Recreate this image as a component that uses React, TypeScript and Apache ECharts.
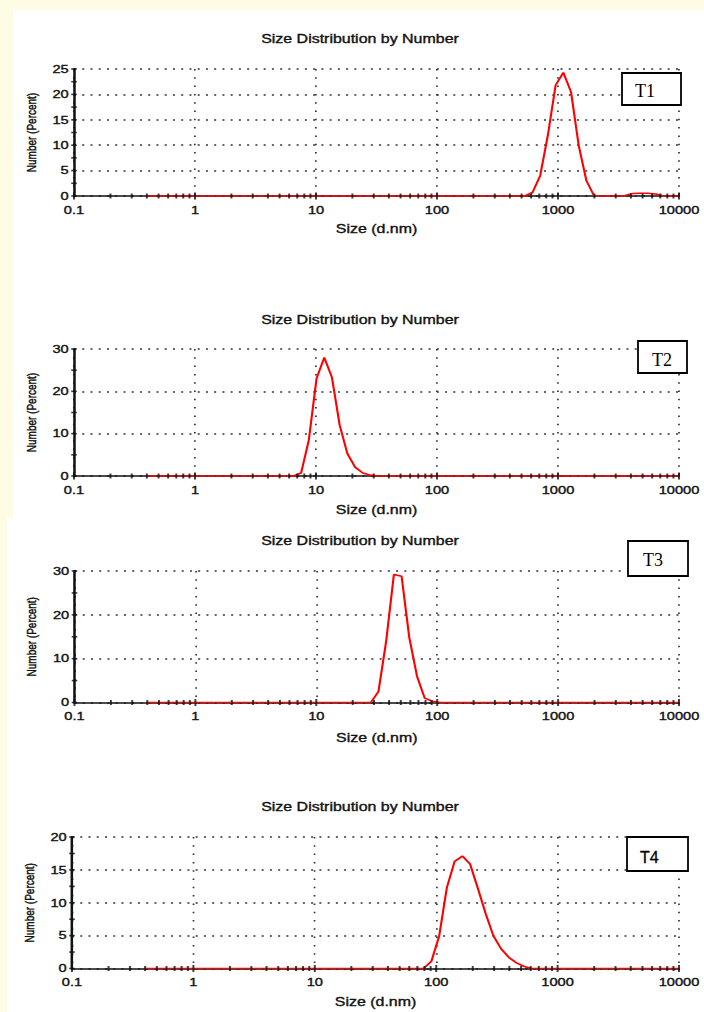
import React, { useEffect, useRef } from "react";
import * as echarts from "echarts";

// The reference screenshot is stretched horizontally; the chart is drawn narrower and stretched back.
const S = 1.33;
const W = 704;
const H = 1012;
const CW = Math.round(W / S);
const CREAM = "#FFFCE6";
const FONT = "'Liberation Sans', Arial, sans-serif";
const INK = "#111111";
const HEAVY = { textBorderColor: "#111111", textBorderWidth: 0.35 };

const TITLE = "Size Distribution by Number";
const X_NAME = "Size (d.nm)";
const Y_NAME = "Number (Percent)";
const X_LABELS = ["0.1", "1", "10", "100", "1000", "10000"];
const SAMPLE_LABELS = ["T1", "T2", "T3", "T4"];

// Size (d.nm) and Number (%) pairs
const T1_SIZES = [0.4, 531.2, 615.1, 712.4, 825.0, 955.4, 1106, 1281, 1484, 1718, 1990, 3091, 3580, 4145, 4801, 5560, 6439, 7456, 10000];
const T1_VALUES = [0, 0, 0.7, 4.0, 12.0, 21.8, 24.3, 20.5, 9.9, 3.0, 0, 0, 0.1, 0.5, 0.55, 0.55, 0.4, 0, 0];

const T2_SIZES = [0.4, 6.503, 7.531, 8.721, 10.1, 11.7, 13.54, 15.69, 18.17, 21.04, 24.36, 28.21, 32.67, 10000];
const T2_VALUES = [0, 0, 0.7, 8.5, 23.0, 28.0, 23.3, 12.0, 5.3, 2.1, 0.7, 0.2, 0, 0];

const T3_SIZES = [0.4, 28.21, 32.67, 37.84, 43.82, 50.75, 58.77, 68.06, 78.82, 91.28, 105.7, 10000];
const T3_VALUES = [0, 0, 2.5, 14.0, 29.2, 28.8, 14.8, 6.0, 1.0, 0.3, 0, 0];

const T4_SIZES = [0.4, 78.82, 91.28, 105.7, 122.4, 141.8, 164.2, 190.1, 220.2, 255.0, 295.3, 342.0, 396.1, 458.7, 531.2, 615.1, 10000];
const T4_VALUES = [0, 0, 1.1, 4.9, 12.3, 16.3, 17.1, 15.9, 12.2, 8.4, 5.0, 3.0, 1.7, 0.85, 0.3, 0, 0];

const SIZES = [T1_SIZES, T2_SIZES, T3_SIZES, T4_SIZES];
const VALUES = [T1_VALUES, T2_VALUES, T3_VALUES, T4_VALUES];

const Y_MAX = [25, 30, 30, 20];
const Y_STEP = [5, 10, 10, 5];

// log-axis minor tick positions
const DECADES = [0.1, 1, 10, 100, 1000];
const MULTS = [2, 3, 4, 5, 6, 7, 8, 9];
const MAJORS = [0.1, 1, 10, 100, 1000, 10000];

// Page-pixel layout of each panel
const PANELS = [
  { left: 74, right: 684, top: 69, bottom: 196, nameGap: 27, titleY: 38.5, box: [622, 73, 59, 32], tx: 635, ty: 91, serif: true },
  { left: 74, right: 685, top: 349, bottom: 476, nameGap: 28, titleY: 319.5, box: [638, 341, 49, 32], tx: 652, ty: 360, serif: true },
  { left: 74.5, right: 690, top: 571, bottom: 702.5, nameGap: 29, titleY: 541, box: [628, 541, 60, 35], tx: 643, ty: 560.5, serif: true },
  { left: 72, right: 685, top: 837, bottom: 968.5, nameGap: 27, titleY: 807, box: [627, 837, 61, 34], tx: 640, ty: 857.5, serif: false },
];

function fmt(v: number) {
  return String(+Number(v).toPrecision(6));
}

function buildOption() {
  const grid = PANELS.map((p) => ({
    left: p.left / S,
    top: p.top,
    width: (p.right - p.left) / S,
    height: p.bottom - p.top,
  }));

  const xAxis = PANELS.map((p, i) => ({
    type: "log",
    logBase: 10,
    gridIndex: i,
    min: 0.1,
    max: 10000,
    name: X_NAME,
    nameLocation: "middle",
    nameGap: p.nameGap,
    nameTextStyle: { fontFamily: FONT, fontSize: 12, color: INK, ...HEAVY },
    axisLine: { show: true, onZero: false, lineStyle: { color: INK, width: 1.7 } },
    axisTick: { show: false },
    axisLabel: {
      show: true,
      fontFamily: FONT,
      fontSize: 11,
      color: INK,
      ...HEAVY,
      margin: 8.5,
      showMinLabel: true,
      showMaxLabel: true,
      hideOverlap: false,
      formatter: (v: number) => {
        const s = fmt(v);
        return X_LABELS.includes(s) ? s : "";
      },
    },
    splitLine: { show: true, lineStyle: { color: "#333333", width: 1.3, type: [1.5, 6.8] } },
  }));

  const yAxis = PANELS.map((p, i) => ({
    type: "value",
    gridIndex: i,
    min: 0,
    max: Y_MAX[i],
    interval: Y_STEP[i],
    name: Y_NAME,
    nameLocation: "middle",
    nameGap: 24,
    nameRotate: 90,
    nameTextStyle: { fontFamily: FONT, fontSize: 10, color: INK, ...HEAVY },
    axisLine: { show: true, onZero: false, lineStyle: { color: INK, width: 1.9 } },
    axisTick: { show: false },
    axisLabel: { fontFamily: FONT, fontSize: 11, color: INK, ...HEAVY, margin: 4 },
    splitLine: { show: true, lineStyle: { color: "#333333", width: 1.6, type: [1.5, 4.7] } },
  }));

  const series: any[] = [];
  PANELS.forEach((p, i) => {
    series.push({
      type: "line",
      xAxisIndex: i,
      yAxisIndex: i,
      data: SIZES[i].map((s, k) => [s, VALUES[i][k]]),
      symbol: "none",
      smooth: false,
      lineStyle: { color: "#ff0000", width: 1.6 },
      z: 3,
      silent: true,
    });
    const minor: number[][] = [];
    DECADES.forEach((d) => MULTS.forEach((m) => minor.push([d * m, 0])));
    series.push({
      type: "scatter",
      xAxisIndex: i,
      yAxisIndex: i,
      data: minor,
      symbol: "rect",
      symbolSize: [1.5, 5],
      itemStyle: { color: INK },
      clip: false,
      silent: true,
      z: 4,
    });
    series.push({
      type: "scatter",
      xAxisIndex: i,
      yAxisIndex: i,
      data: MAJORS.map((m) => [m, 0]),
      symbol: "rect",
      symbolSize: [1.5, 7],
      itemStyle: { color: INK },
      clip: false,
      silent: true,
      z: 4,
    });
    const yt: number[][] = [];
    const half = Y_STEP[i] / 2;
    for (let v = 0; v <= Y_MAX[i] + 1e-9; v += half) yt.push([0.1, v]);
    series.push({
      type: "scatter",
      xAxisIndex: i,
      yAxisIndex: i,
      data: yt,
      symbol: "rect",
      symbolSize: [4.2, 1.6],
      itemStyle: { color: INK },
      clip: false,
      silent: true,
      z: 4,
    });
  });

  const titles = PANELS.map((p) => ({
    type: "text",
    x: 360 / S,
    y: p.titleY,
    z: 50,
    style: {
      text: TITLE,
      fontFamily: FONT,
      fontSize: 12,
      fill: INK,
      stroke: INK,
      lineWidth: 0.35,
      align: "center",
      verticalAlign: "middle",
    },
  }));

  const boxes: any[] = [];
  PANELS.forEach((p) => {
    boxes.push({
      type: "rect",
      x: p.box[0] / S,
      y: p.box[1],
      scaleX: 1 / S,
      shape: { x: 0, y: 0, width: p.box[2], height: p.box[3] },
      style: { fill: "#ffffff", stroke: "#000000", lineWidth: 1.8 },
      z: 60,
    });
  });
  const labels = PANELS.map((p, i) => ({
    type: "text",
    x: p.tx / S,
    y: p.ty,
    scaleX: 1 / S,
    z: 61,
    style: {
      text: SAMPLE_LABELS[i],
      fontFamily: p.serif ? "'Liberation Serif', serif" : FONT,
      fontSize: p.serif ? 18 : 16,
      fill: "#000000",
      stroke: p.serif ? "none" : "#000000",
      lineWidth: p.serif ? 0 : 0.3,
      align: "left",
      verticalAlign: "middle",
    },
  }));

  return {
    animation: false,
    backgroundColor: "transparent",
    grid,
    xAxis,
    yAxis,
    series,
    graphic: [...titles, ...boxes, ...labels],
  };
}

export default function App() {
  const ref = useRef<HTMLDivElement>(null);
  useEffect(() => {
    if (!ref.current) return;
    const chart = echarts.init(ref.current, null, { renderer: "svg" });
    chart.setOption(buildOption() as any);
    return () => chart.dispose();
  }, []);
  return (
    <div style={{ position: "fixed", left: 0, top: 0, width: W, height: H, overflow: "hidden", background: "#ffffff" }}>
      <div style={{ position: "absolute", left: 0, top: 0, width: W, height: 10, background: CREAM }} />
      <div style={{ position: "absolute", left: 0, top: 0, width: 13, height: 518, background: CREAM }} />
      <div style={{ position: "absolute", left: 0, top: 518, width: 7, height: H - 518, background: CREAM }} />
      <div
        ref={ref}
        style={{
          position: "absolute",
          left: 0,
          top: 0,
          width: CW,
          height: H,
          transform: `scaleX(${S})`,
          transformOrigin: "0 0",
        }}
      />
    </div>
  );
}
